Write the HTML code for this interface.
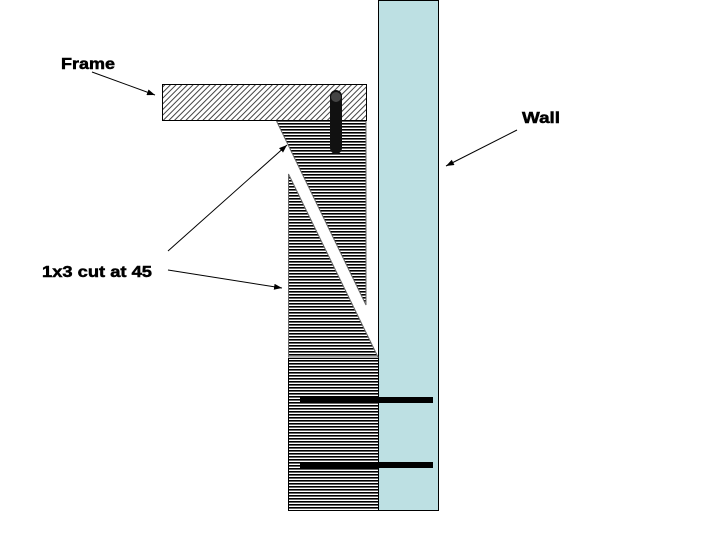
<!DOCTYPE html>
<html><head><meta charset="utf-8"><style>
html,body{margin:0;padding:0;background:#fff;}
svg{display:block;}
text{font-family:"Liberation Sans",Arial,sans-serif;font-weight:bold;font-size:16px;fill:#000;stroke:#000;stroke-width:0.5px;}
</style></head><body>
<svg width="720" height="540" viewBox="0 0 720 540" xmlns="http://www.w3.org/2000/svg">
<defs>
<pattern id="hz" width="6" height="3" patternUnits="userSpaceOnUse">
<rect width="6" height="3" fill="#fff"/><rect y="0" width="6" height="1.6" fill="#000"/>
</pattern>
<pattern id="dg" width="4" height="4" patternUnits="userSpaceOnUse" patternTransform="rotate(45)">
<rect width="4" height="4" fill="#fff"/><rect width="1" height="4" fill="#444"/>
</pattern>
<marker id="ah" markerWidth="8" markerHeight="6" refX="8" refY="3" orient="auto" markerUnits="userSpaceOnUse">
<path d="M0,0 L8,3 L0,6 z" fill="#000"/>
</marker>
</defs>
<rect x="378.5" y="0.5" width="60" height="510" fill="#bde0e3" stroke="#000" stroke-width="1"/>
<rect x="288.5" y="358.5" width="90" height="152" fill="url(#hz)" stroke="#000" stroke-width="1"/>
<polygon points="288.5,174 378,357 288.5,357" fill="url(#hz)" stroke="#666" stroke-width="1"/>
<polygon points="276,120 366,120 366,305" fill="url(#hz)" stroke="#666" stroke-width="1"/>
<rect x="162.5" y="84.5" width="204" height="36" fill="url(#dg)" stroke="#000" stroke-width="1"/>
<rect x="330" y="90" width="12" height="64" rx="6" fill="#111"/>
<circle cx="336" cy="97" r="5" fill="#444"/>
<rect x="300" y="397" width="133" height="6" fill="#000"/>
<rect x="300" y="462" width="133" height="6" fill="#000"/>
<text x="61" y="69" textLength="54" lengthAdjust="spacingAndGlyphs">Frame</text>
<text x="522" y="123" textLength="38" lengthAdjust="spacingAndGlyphs">Wall</text>
<text x="42" y="277" textLength="110" lengthAdjust="spacingAndGlyphs">1x3 cut at 45</text>
<line x1="92" y1="72" x2="155" y2="95" stroke="#000" stroke-width="1" marker-end="url(#ah)"/>
<line x1="517" y1="130" x2="446" y2="166" stroke="#000" stroke-width="1" marker-end="url(#ah)"/>
<line x1="168" y1="251" x2="287" y2="145" stroke="#000" stroke-width="1" marker-end="url(#ah)"/>
<line x1="168" y1="270" x2="282" y2="288" stroke="#000" stroke-width="1" marker-end="url(#ah)"/>
</svg>
</body></html>
